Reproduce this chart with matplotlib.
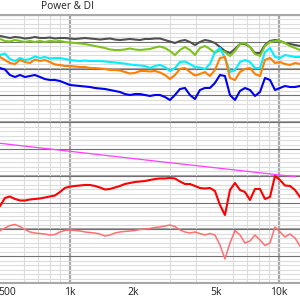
import matplotlib
matplotlib.use("Agg")
import matplotlib.pyplot as plt
from matplotlib.ticker import FixedLocator, NullFormatter

# frequency samples (Hz), shared by all curves
freq = [463, 489, 516, 546, 577, 609, 644, 680, 719, 759, 802, 848, 896, 946,
        1000, 1057, 1117, 1180, 1247, 1317, 1392, 1471, 1554, 1642, 1735, 1833,
        1937, 2047, 2163, 2285, 2415, 2551, 2696, 2849, 3010, 3181, 3361, 3551,
        3752, 3965, 4189, 4427, 4677, 4942, 5222, 5518, 5831, 6161, 6510, 6879,
        7269, 7680, 8115, 8575, 9061, 9574, 10116, 10689, 11295, 11935, 12611]

gray_db = [7.30, 7.07, 6.85, 7.07, 6.96, 6.74, 6.85, 7.07, 6.85, 6.85, 6.96, 6.74,
           6.85, 6.85, 6.74, 6.63, 6.74, 6.85, 6.74, 6.63, 6.51, 6.63, 6.74, 6.51,
           6.40, 6.51, 6.63, 6.51, 6.40, 6.63, 6.63, 6.74, 6.74, 6.40, 6.07, 5.73,
           6.18, 6.40, 5.96, 5.28, 5.96, 6.40, 6.18, 5.73, 4.84, 3.94, 3.49, 4.39,
           5.51, 5.51, 4.84, 3.49, 3.49, 5.28, 6.18, 6.40, 6.18, 5.73, 5.51, 5.28, 5.06]

green_db = [6.63, 6.18, 6.07, 6.40, 6.18, 5.96, 6.18, 5.96, 6.18, 5.96, 6.18, 6.07,
            6.18, 5.96, 5.84, 5.73, 5.62, 5.51, 5.28, 5.06, 4.84, 4.61, 4.28, 4.16,
            4.16, 4.28, 4.50, 4.28, 4.16, 4.28, 4.39, 4.72, 4.95, 4.61, 3.94, 3.04,
            4.16, 4.84, 4.16, 3.04, 4.61, 5.06, 4.39, 3.49, 4.16, 3.72, 2.82, 3.94,
            5.51, 5.73, 4.84, 3.27, 2.82, 5.06, 5.96, 6.18, 6.18, 5.73, 5.06, 4.61, 4.16]

cyan_db = [3.04, 3.38, 2.15, 1.70, 2.37, 1.93, 2.15, 2.71, 2.37, 2.60, 2.26, 2.37,
           2.37, 2.15, 1.93, 1.81, 1.70, 1.81, 1.70, 1.70, 1.70, 1.59, 1.48, 1.37,
           1.25, 1.14, 0.92, 0.81, 0.69, 0.58, 0.13, 0.58, 0.81, 0.36, -0.54, 0.13,
           1.48, 1.59, 1.03, 0.36, 0.25, -0.09, 1.03, 3.72, 4.61, 2.37, -0.76, -0.31,
           1.48, 1.93, 1.48, 0.13, 0.13, 3.72, 4.61, 2.60, 2.37, 3.04, 2.82, 2.60, 2.60]

orange_db = [2.60, 1.93, 1.25, 1.03, 1.93, 1.48, 1.25, 2.04, 1.70, 1.93, 1.48, 0.92,
             0.81, 0.58, 0.58, 0.47, 0.36, 0.36, 0.13, 0.13, 0.02, -0.09, -0.31, -0.31,
             -0.42, -0.76, -1.10, -0.98, -0.54, -0.54, -0.65, -0.54, -0.87, -1.43, -2.33, -1.43,
             -0.09, 0.13, -0.76, -1.54, -1.21, -0.76, -1.66, -0.31, 2.37, 2.60, -2.10, -2.55,
             -0.76, -0.09, 0.13, -1.21, -1.66, 1.93, 2.37, 1.25, 1.48, 1.03, 0.81, 1.25, 1.03]

blue_db = [0.13, -0.20, -1.43, -1.88, -1.43, -1.88, -1.66, -1.43, -1.88, -2.33, -2.55, -2.55,
           -2.78, -3.22, -3.67, -3.78, -3.90, -4.01, -4.12, -4.34, -4.46, -4.57, -4.79, -5.01,
           -5.24, -5.69, -5.91, -5.69, -5.69, -5.91, -6.13, -5.91, -5.91, -6.36, -7.03, -5.91,
           -4.57, -4.34, -5.91, -6.81, -4.79, -4.34, -4.34, -3.22, -1.43, -1.66, -5.91, -7.03,
           -5.01, -4.34, -4.79, -6.13, -5.24, -2.10, -2.55, -4.79, -4.34, -3.90, -4.12, -4.12, -3.90]

red_db = [-30.76, -28.97, -28.63, -29.19, -29.53, -29.53, -29.31, -29.19, -29.08, -28.86,
          -28.63, -28.41, -27.63, -26.73, -26.40, -26.28, -26.17, -26.06, -26.06, -26.28,
          -26.62, -27.07, -26.95, -26.62, -26.28, -25.84, -25.61, -25.39, -25.28, -25.17,
          -24.94, -24.72, -24.60, -24.60, -24.49, -24.60, -25.28, -25.84, -25.84, -26.28,
          -26.73, -26.84, -26.73, -27.40, -30.54, -32.78, -27.18, -25.61, -27.18, -27.63,
          -29.42, -26.95, -26.95, -29.19, -28.75, -24.04, -24.94, -26.17, -26.28, -27.18, -28.75]

salmon_db = [-36.29, -35.69, -35.13, -34.90, -35.35, -36.02, -36.58, -36.81, -36.92, -37.03,
             -37.25, -37.14, -36.58, -36.25, -36.13, -36.25, -36.36, -36.58, -36.69, -36.81,
             -37.03, -37.48, -37.25, -36.81, -36.58, -36.47, -36.36, -36.25, -36.02, -35.91,
             -35.80, -35.58, -35.46, -35.24, -35.01, -35.35, -36.13, -36.58, -36.81, -36.58,
             -36.92, -37.25, -36.92, -37.25, -39.49, -42.63, -39.04, -36.25, -37.25, -39.04,
             -38.60, -37.25, -38.37, -39.60, -39.04, -35.46, -36.58, -37.70, -37.03, -37.93, -39.72]

di_freq = [463, 2415, 11935]
di_db = [-16.72, -20.57, -24.20]

xtick_vals = [500, 1000, 2000, 5000, 10000]
xtick_labels = ["500", "1k", "2k", "5k", "10k"]
minor_x = [500, 600, 700, 800, 900, 2000, 3000, 4000, 5000, 6000, 7000, 8000, 9000]

plt.rcParams["font.family"] = ["Open Sans", "DejaVu Sans"]

fig = plt.figure(figsize=(3, 3), dpi=100)
ax = fig.add_axes([0, 0.0567, 1, 0.8933])
ax.set_xscale("log")
ax.set_xlim(463, 12611)
ax.set_ylim(-48, 12)

# grid
ax.set_axisbelow(True)
ax.xaxis.set_major_locator(FixedLocator(xtick_vals))
ax.set_xticklabels(xtick_labels)
ax.xaxis.set_minor_locator(FixedLocator(minor_x))
ax.xaxis.set_minor_formatter(NullFormatter())
ax.yaxis.set_major_locator(FixedLocator(range(-48, 13, 6)))
ax.yaxis.set_minor_locator(FixedLocator(range(-48, 13, 1)))
ax.set_yticklabels([])
ax.grid(which="minor", color="#dcdcdc", lw=0.8)
ax.grid(which="major", axis="y", color="#707070", lw=0.8)
for v in range(-36, 12, 12):
    ax.axhline(v, color="#a8a8a8", lw=1.5, zorder=0.5)
for v in (1000, 10000):
    ax.axvline(v, color="#a8a8a8", lw=1.6, zorder=0.5)

ax.tick_params(which="both", length=0)
ax.tick_params(axis="x", which="major", pad=3, labelsize=7.5, colors="#202020")
for s in ("left", "right"):
    ax.spines[s].set_visible(False)
for s in ("top", "bottom"):
    ax.spines[s].set_color("#a8a8a8")
    ax.spines[s].set_linewidth(1.5)

# curves
ax.plot(freq, gray_db, color="#505050", lw=1.5)
ax.plot(freq, green_db, color="#7fc31c", lw=1.5)
ax.plot(freq, cyan_db, color="#00f0ff", lw=1.5)
ax.plot(freq, orange_db, color="#ff7f00", lw=1.5)
ax.plot(freq, blue_db, color="#0000f0", lw=1.5)
ax.plot(di_freq, di_db, color="#ff40ff", lw=0.9)
ax.plot(freq, red_db, color="#ff0000", lw=1.5)
ax.plot(freq, salmon_db, color="#ff7070", lw=1.1)

fig.text(67 / 300, 1 - 6.5 / 300, "Power & DI", ha="center", va="center",
         fontsize=7.3, color="#202020")

fig.savefig("out.png", dpi=100, facecolor="white")
